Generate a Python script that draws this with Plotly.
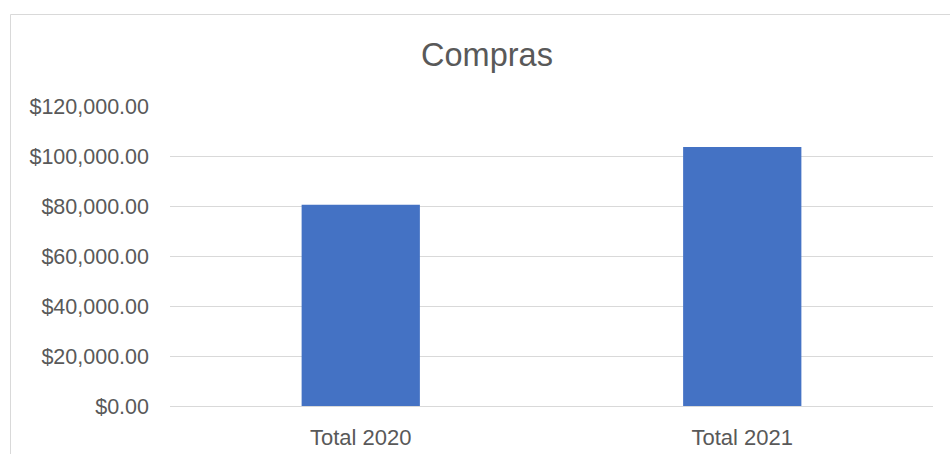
import plotly.graph_objects as go

# Purchases totals per year
categories = ["Total 2020", "Total 2021"]
compras = [80500, 103600]
tick_values = [0, 20000, 40000, 60000, 80000, 100000, 120000]
tick_labels = ["$0.00", "$20,000.00", "$40,000.00", "$60,000.00",
               "$80,000.00", "$100,000.00", "$120,000.00"]

W, H = 950, 454
ML, MR, MT, MB = 170, 17, 106, 48

fig = go.Figure(
    go.Bar(
        x=categories,
        y=compras,
        marker=dict(color="#4472C4", line=dict(width=0)),
        hoverinfo="x+y",
    )
)

fig.update_layout(
    width=W,
    height=H,
    margin=dict(l=ML, r=MR, t=MT, b=MB, autoexpand=False),
    paper_bgcolor="white",
    plot_bgcolor="white",
    bargap=0.69,
    showlegend=False,
    font=dict(family="Liberation Sans, Arial, sans-serif", color="#595959"),
    title=dict(
        text="Compras",
        x=487 / W,
        xanchor="center",
        xref="container",
        y=1 - 55 / H,
        yanchor="middle",
        yref="container",
        font=dict(size=32.5, color="#595959"),
    ),
)

fig.update_yaxes(
    range=[0, 120000],
    tickvals=tick_values,
    ticktext=tick_labels,
    tickfont=dict(size=21.5, color="#595959"),
    showgrid=True,
    gridcolor="#d9d9d9",
    gridwidth=1,
    zeroline=False,
    showline=False,
    ticklabelstandoff=20,
    automargin=False,
    fixedrange=True,
)

fig.update_xaxes(
    tickfont=dict(size=22, color="#595959"),
    showline=True,
    linecolor="#d9d9d9",
    linewidth=1,
    showgrid=False,
    ticklabelstandoff=12,
    automargin=False,
    fixedrange=True,
)

# Light outer frame of the chart area (pixel -> paper conversion)
plot_w = W - ML - MR
plot_h = H - MT - MB


def px_x(p):
    return (p - ML) / plot_w


def px_y(p):
    return (H - MB - p) / plot_h


fig.add_shape(
    type="rect",
    xref="paper", yref="paper",
    x0=px_x(10.5), x1=px_x(W + 20),
    y0=px_y(H + 20), y1=px_y(14.5),
    line=dict(color="#d9d9d9", width=1),
    fillcolor="rgba(0,0,0,0)",
    layer="below",
)

fig.write_html("out.html")
